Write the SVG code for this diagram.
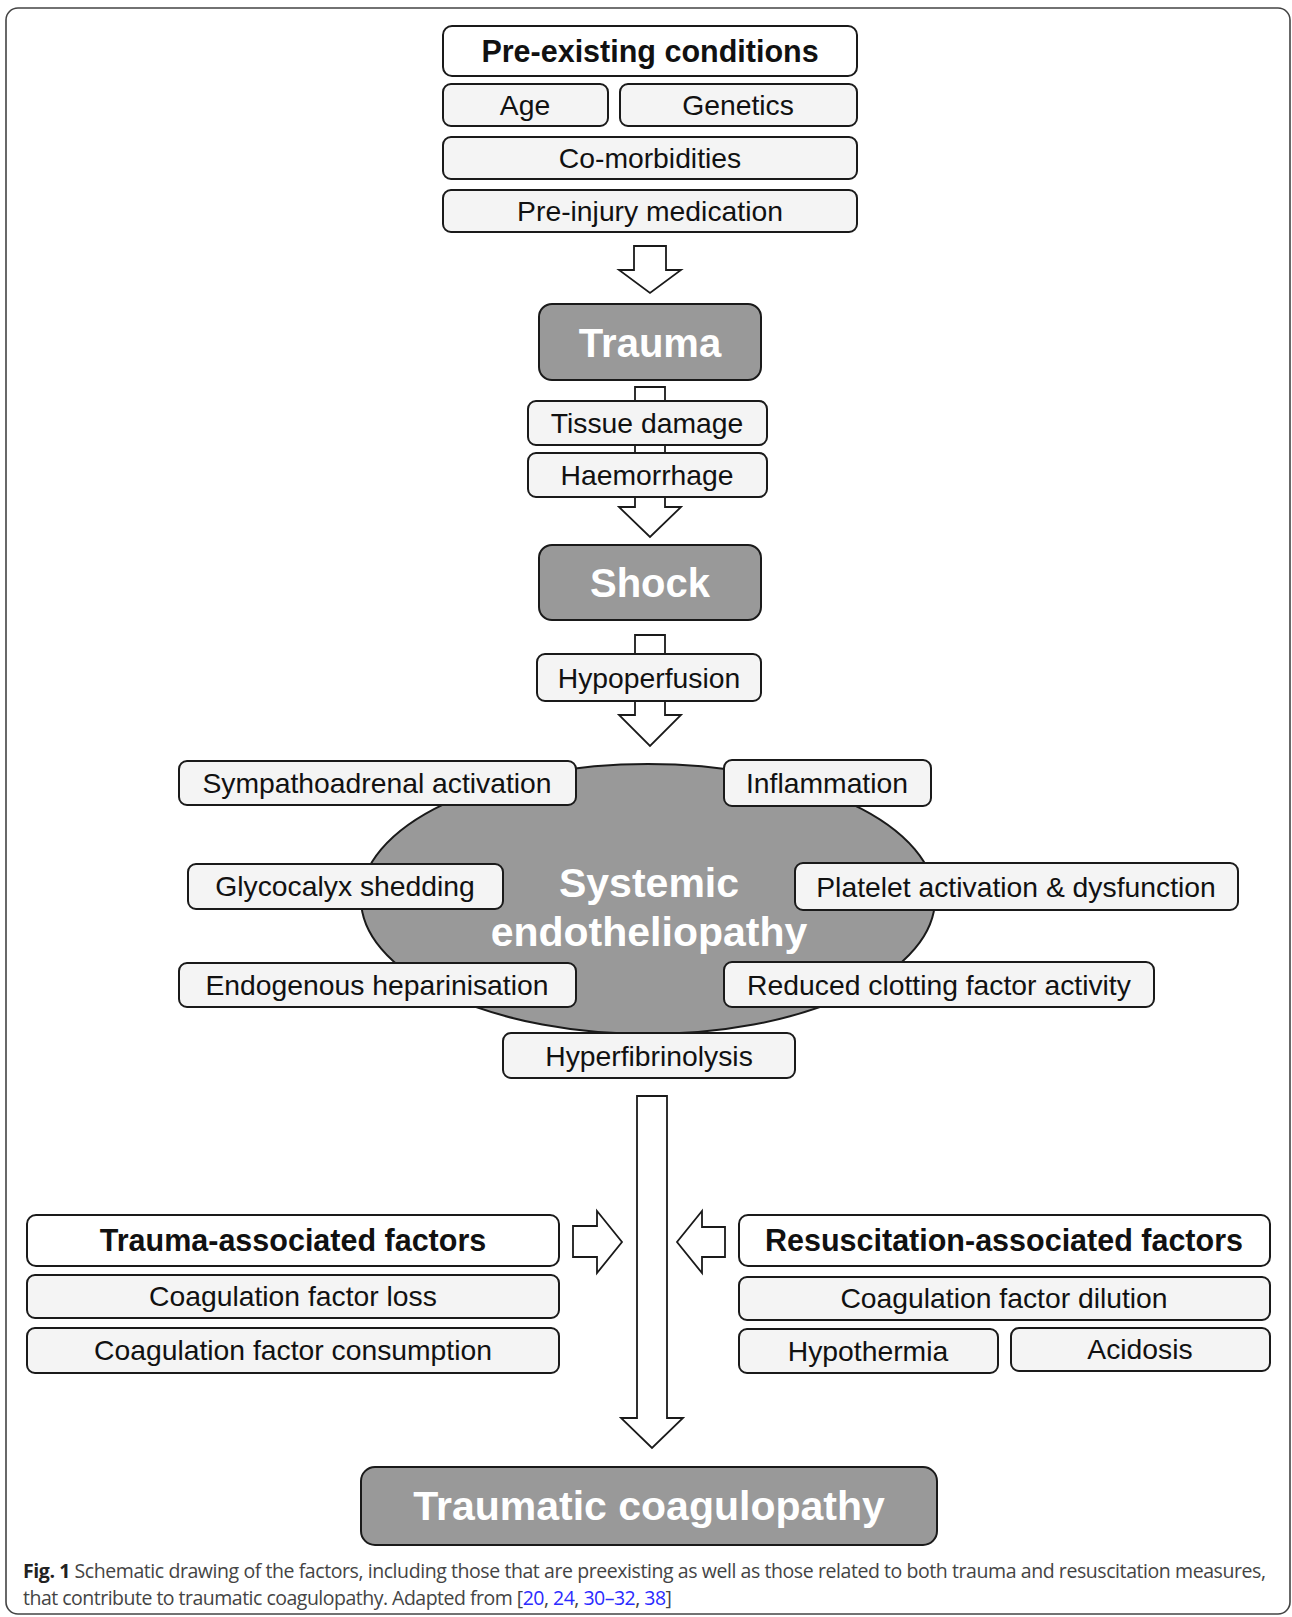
<svg xmlns="http://www.w3.org/2000/svg" width="1292" height="1617" viewBox="0 0 1292 1617">
<style>
.frame{fill:#fff;stroke:#444;stroke-width:1.6}
.hd{fill:#fff;stroke:#1a1a1a;stroke-width:2}
.lt{fill:#f4f4f4;stroke:#1a1a1a;stroke-width:2}
.dk{fill:#999;stroke:#1a1a1a;stroke-width:2}
.arr{fill:#fff;stroke:#1a1a1a;stroke-width:1.8;stroke-linejoin:miter}
.t{font-family:"Liberation Sans",Arial,sans-serif;font-size:28.3px;fill:#111;text-anchor:middle}
.tb{font-family:"Liberation Sans",Arial,sans-serif;font-size:30.5px;font-weight:bold;fill:#111;text-anchor:middle}
.tw{font-family:"Liberation Sans",Arial,sans-serif;font-size:40px;font-weight:bold;fill:#fff;text-anchor:middle}
.cap{font-family:"Open Sans","DejaVu Sans",sans-serif;font-size:19.5px;fill:#444}
.lnk{fill:#2b2bff}
</style>
<rect class="frame" x="6" y="8" width="1284" height="1606" rx="12"/>

<g id="connectors">
<polygon class="arr" points="634,246 666,246 666,270 681,270 650,293 619,270 634,270"/>
<polygon class="arr" points="635,387 665,387 665,507 681,507 650,537 619,507 635,507"/>
<polygon class="arr" points="635,635 665,635 665,715 681,715 650,746 619,715 635,715"/>
<polygon class="arr" points="637,1096 667,1096 667,1418 683,1418 652,1448 621,1418 637,1418"/>
<polygon class="arr" points="573,1226 597,1226 597,1211 622,1242 597,1273 597,1257 573,1257"/>
<polygon class="arr" points="725,1227 702,1227 702,1211 677,1242 702,1273 702,1257 725,1257"/>
</g>

<g id="pre-existing">
<rect class="hd" x="443" y="26" width="414" height="50" rx="9"/>
<text class="tb" x="650" y="62">Pre-existing conditions</text>
</g>
<g id="age">
<rect class="lt" x="443" y="84" width="165" height="42" rx="8"/>
<text class="t" x="525" y="115">Age</text>
</g>
<g id="genetics">
<rect class="lt" x="620" y="84" width="237" height="42" rx="8"/>
<text class="t" x="738" y="115">Genetics</text>
</g>
<g id="comorbidities">
<rect class="lt" x="443" y="137" width="414" height="42" rx="8"/>
<text class="t" x="650" y="168">Co-morbidities</text>
</g>
<g id="medication">
<rect class="lt" x="443" y="190" width="414" height="42" rx="8"/>
<text class="t" x="650" y="221">Pre-injury medication</text>
</g>

<g id="trauma">
<rect class="dk" x="539" y="304" width="222" height="76" rx="13"/>
<text class="tw" x="650" y="357">Trauma</text>
</g>
<g id="tissue-damage">
<rect class="lt" x="528" y="401" width="239" height="44" rx="8"/>
<text class="t" x="647" y="433">Tissue damage</text>
</g>
<g id="haemorrhage">
<rect class="lt" x="528" y="453" width="239" height="44" rx="8"/>
<text class="t" x="647" y="485">Haemorrhage</text>
</g>

<g id="shock">
<rect class="dk" x="539" y="545" width="222" height="75" rx="13"/>
<text class="tw" x="650" y="597">Shock</text>
</g>
<g id="hypoperfusion">
<rect class="lt" x="537" y="654" width="224" height="47" rx="8"/>
<text class="t" x="649" y="688">Hypoperfusion</text>
</g>

<g id="endotheliopathy">
<ellipse class="dk" cx="648" cy="899" rx="287" ry="135"/>
<text class="tw" x="649" y="897" style="font-size:41px">Systemic</text>
<text class="tw" x="649" y="946" style="font-size:41px">endotheliopathy</text>
</g>
<g id="sympathoadrenal">
<rect class="lt" x="179" y="761" width="397" height="44" rx="8"/>
<text class="t" x="377" y="793">Sympathoadrenal activation</text>
</g>
<g id="inflammation">
<rect class="lt" x="724" y="760" width="207" height="46" rx="8"/>
<text class="t" x="827" y="793">Inflammation</text>
</g>
<g id="glycocalyx">
<rect class="lt" x="188" y="864" width="315" height="45" rx="8"/>
<text class="t" x="345" y="896">Glycocalyx shedding</text>
</g>
<g id="platelet">
<rect class="lt" x="795" y="863" width="443" height="47" rx="8"/>
<text class="t" x="1016" y="897">Platelet activation &amp; dysfunction</text>
</g>
<g id="heparinisation">
<rect class="lt" x="179" y="963" width="397" height="44" rx="8"/>
<text class="t" x="377" y="995">Endogenous heparinisation</text>
</g>
<g id="reduced-clotting">
<rect class="lt" x="724" y="962" width="430" height="45" rx="8"/>
<text class="t" x="939" y="995">Reduced clotting factor activity</text>
</g>
<g id="hyperfibrinolysis">
<rect class="lt" x="503" y="1033" width="292" height="45" rx="8"/>
<text class="t" x="649" y="1066">Hyperfibrinolysis</text>
</g>

<g id="trauma-factors">
<rect class="hd" x="27" y="1215" width="532" height="51" rx="9"/>
<text class="tb" x="293" y="1251">Trauma-associated factors</text>
</g>
<g id="factor-loss">
<rect class="lt" x="27" y="1275" width="532" height="43" rx="8"/>
<text class="t" x="293" y="1306">Coagulation factor loss</text>
</g>
<g id="factor-consumption">
<rect class="lt" x="27" y="1328" width="532" height="45" rx="8"/>
<text class="t" x="293" y="1360">Coagulation factor consumption</text>
</g>

<g id="resuscitation-factors">
<rect class="hd" x="739" y="1215" width="531" height="51" rx="9"/>
<text class="tb" x="1004" y="1251">Resuscitation-associated factors</text>
</g>
<g id="factor-dilution">
<rect class="lt" x="739" y="1277" width="531" height="43" rx="8"/>
<text class="t" x="1004" y="1308">Coagulation factor dilution</text>
</g>
<g id="hypothermia">
<rect class="lt" x="739" y="1329" width="259" height="44" rx="8"/>
<text class="t" x="868" y="1361">Hypothermia</text>
</g>
<g id="acidosis">
<rect class="lt" x="1011" y="1328" width="259" height="43" rx="8"/>
<text class="t" x="1140" y="1359">Acidosis</text>
</g>

<g id="traumatic-coagulopathy">
<rect class="dk" x="361" y="1467" width="576" height="78" rx="14"/>
<text class="tw" x="649" y="1520" style="font-size:41px">Traumatic coagulopathy</text>
</g>

<g id="caption">
<text class="cap" x="23" y="1578" textLength="1243" lengthAdjust="spacing"><tspan font-weight="bold" fill="#222">Fig. 1</tspan> Schematic drawing of the factors, including those that are preexisting as well as those related to both trauma and resuscitation measures,</text>
<text class="cap" x="23" y="1605" textLength="649" lengthAdjust="spacing">that contribute to traumatic coagulopathy. Adapted from [<tspan class="lnk">20</tspan>, <tspan class="lnk">24</tspan>, <tspan class="lnk">30–32</tspan>, <tspan class="lnk">38</tspan>]</text>
</g>
</svg>
